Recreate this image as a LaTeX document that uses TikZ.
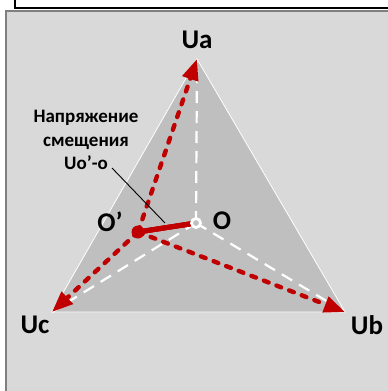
\documentclass[tikz,border=0pt]{standalone}
\usepackage{fontspec}
\setmainfont{Carlito}
\usetikzlibrary{arrows.meta}
\definecolor{panelgray}{HTML}{D9D9D9}
\definecolor{trigray}{HTML}{BFBFBF}
\definecolor{edgegray}{HTML}{7F7F7F}
\definecolor{darkred}{HTML}{C00000}
\newcommand{\phasearrow}[2]{%
  \draw[darkred,line width=4.4pt,dash pattern=on 5pt off 8.5pt,line cap=round,
    -{Triangle[length=21pt,width=16pt]}] (#1)--(#2);%
}
\tikzset{biglbl/.style={font=\bfseries\fontsize{27}{30}\selectfont},
  smalllbl/.style={font=\bfseries\fontsize{19}{23.5}\selectfont,align=center}}

\begin{document}
\begin{tikzpicture}[x=1pt,y=-1pt]
  \useasboundingbox (0,0) rectangle (388,391);
  \fill[white] (0,0) rectangle (388,391);
  \draw[black,line width=1.5pt] (15,-2)--(15,8)--(390,8);
  \fill[panelgray] (5,10) rectangle (388,391);
  \draw[edgegray,line width=2pt] (6,393)--(6,11)--(390,11);
  \coordinate (A) at (197,59);
  \coordinate (B) at (345,312);
  \coordinate (C) at (52,312);
  \coordinate (O) at (196,223);
  \coordinate (Os) at (138,232);
  \fill[trigray,draw=white,line width=0.8pt] (A)--(B)--(C)--cycle;
  \foreach \v in {A,B,C}
    \draw[white,line width=2.2pt,dash pattern=on 12pt off 8pt] (O)--(\v);
  \foreach \v in {A,B,C}
    \phasearrow{Os}{\v}
  \draw[darkred,line width=5pt,line cap=round] (Os)--(O);
  \fill[darkred] (Os) circle (6.5pt);
  \draw[white,line width=2.8pt,fill=trigray] (O) circle (4.5pt);
  \node[biglbl] (ua) at (197,40) {Ua};
  \node[biglbl] (ub) at (367,325) {Ub};
  \node[biglbl] (uc) at (35,325) {Uc};
  \node[biglbl] (o) at (222,221) {O};
  \node[biglbl] (os) at (110,222) {O’};
  \node[smalllbl] (shift) at (86,140) {Напряжение\\смещения\\Uo’-o};
  \coordinate (leadA) at (112,168);
  \coordinate (leadB) at (165,223);
  \draw[black,line width=0.9pt] (leadA)--(leadB);
\end{tikzpicture}
\end{document}
